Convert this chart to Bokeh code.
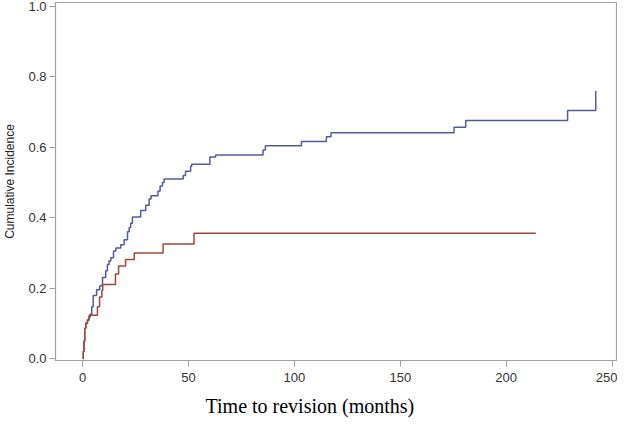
from bokeh.plotting import figure
from bokeh.models import Range1d, FixedTicker, PrintfTickFormatter, Title
from bokeh.embed import file_html
from bokeh.resources import INLINE

# Cumulative incidence curves (event time in months, cumulative incidence after the step)
blue_t = [0, 0.3, 0.6, 1.0, 1.5, 2.3, 3.0, 3.6, 4.3, 5.0, 6.6, 8.1, 9.4, 10.9, 11.7, 12.5,
          13.3, 14.6, 15.7, 18.0, 19.6, 21.2, 22.0, 22.7, 23.5, 27.4, 29.8, 31.4, 32.3, 35.6,
          36.6, 37.7, 38.5, 47.5, 48.6, 51.0, 51.5, 60.1, 62.8, 85.2, 86.3, 103.3, 115.1,
          117.3, 175.4, 180.9, 229.0, 242.3]
blue_y = [0.0, 0.02, 0.05, 0.086, 0.10, 0.109, 0.118, 0.126, 0.147, 0.179, 0.195, 0.207, 0.23,
          0.249, 0.267, 0.277, 0.286, 0.305, 0.314, 0.323, 0.337, 0.36, 0.372, 0.384, 0.402,
          0.42, 0.435, 0.453, 0.462, 0.476, 0.49, 0.50, 0.51, 0.52, 0.532, 0.546, 0.552, 0.572,
          0.578, 0.592, 0.604, 0.616, 0.63, 0.641, 0.657, 0.676, 0.704, 0.76]

red_t = [0, 0.3, 0.7, 1.0, 1.5, 2.3, 3.1, 7.0, 8.0, 9.1, 9.5, 15.5, 17.0, 20.3, 24.4, 38.0,
         52.6, 214.0]
red_y = [0.0, 0.02, 0.05, 0.086, 0.10, 0.11, 0.123, 0.147, 0.175, 0.193, 0.21, 0.24, 0.263,
         0.281, 0.30, 0.325, 0.356, 0.356]

x_ticks = [0, 50, 100, 150, 200, 250]
y_ticks = [0.0, 0.2, 0.4, 0.6, 0.8, 1.0]

p = figure(frame_width=561, frame_height=358, output_backend="svg", toolbar_location=None,
           x_range=Range1d(-12.8, 252.1), y_range=Range1d(-0.0056, 1.011),
           min_border_left=50, min_border_right=1, min_border_top=2, min_border_bottom=0)

p.step(blue_t, blue_y, mode="after", line_color="#525C97", line_width=1.5)
p.step(red_t, red_y, mode="after", line_color="#A3463A", line_width=1.5)

grey = "#A0A0A0"
p.xgrid.visible = False
p.ygrid.visible = False
p.outline_line_color = grey
p.outline_line_width = 1.2

for ax in (p.xaxis[0], p.yaxis[0]):
    ax.axis_line_color = grey
    ax.major_tick_line_color = grey
    ax.major_tick_out = 6
    ax.major_tick_in = 0
    ax.minor_tick_line_color = None
    ax.major_label_text_font = "Liberation Sans"
    ax.major_label_text_font_size = "13px"
    ax.major_label_text_color = "#333333"

p.xaxis.ticker = FixedTicker(ticks=x_ticks)
p.yaxis.ticker = FixedTicker(ticks=y_ticks)
p.yaxis.formatter = PrintfTickFormatter(format="%.1f")
p.xaxis.major_label_standoff = 6
p.yaxis.major_label_standoff = 3

p.yaxis.axis_label = "Cumulative Incidence"
p.yaxis.axis_label_text_font = "Liberation Sans"
p.yaxis.axis_label_text_font_size = "12px"
p.yaxis.axis_label_text_font_style = "normal"
p.yaxis.axis_label_text_color = "#222222"
p.yaxis.axis_label_standoff = 8

p.add_layout(Title(text="Time to revision (months)", align="left", offset=150,
                   text_font="Liberation Serif", text_font_size="20px",
                   text_font_style="normal", text_color="#000000", standoff=17), "below")

open("out.html", "w").write(file_html(p, INLINE))
